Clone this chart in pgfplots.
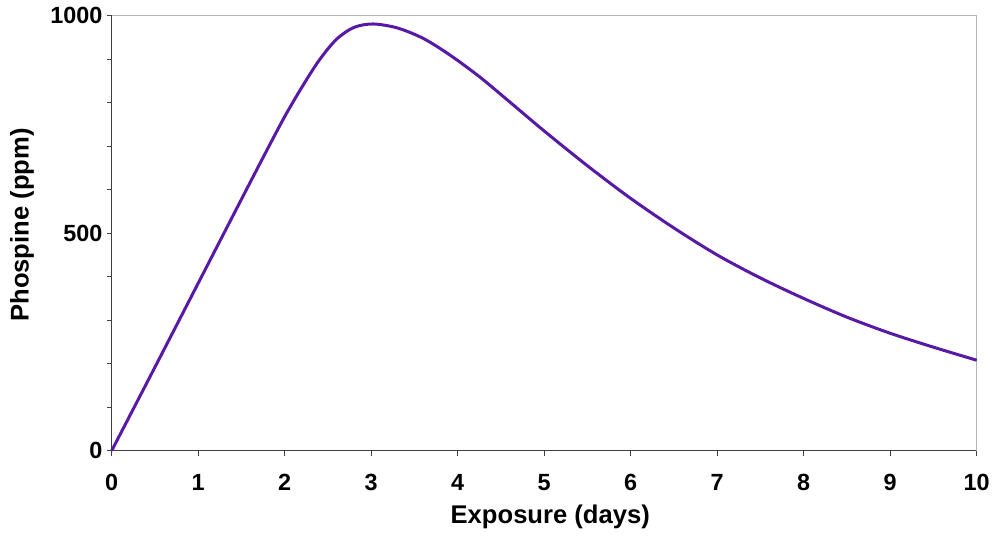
\documentclass[border=0pt]{standalone}
\usepackage{pgfplots}
\pgfplotsset{compat=1.18}
\usepackage{fontspec}
\setmainfont{Liberation Sans}
\definecolor{curve}{RGB}{88,26,166}
\definecolor{darkaxis}{RGB}{64,64,64}
\definecolor{lightaxis}{RGB}{180,180,180}

\begin{document}
\begin{tikzpicture}
\begin{axis}[
  scale only axis, width=432.5pt, height=217.5pt,
  xmin=0, xmax=10, ymin=0, ymax=1000,
  axis x line*=bottom, axis y line*=left,
  axis line style={darkaxis, line width=0.75pt, -},
  xtick={0,...,10}, ytick={0,500,1000},
  minor y tick num=4,
  tick align=outside, major tick length=2.4pt, minor tick length=2.2pt,
  tick style={darkaxis, line width=0.6pt},
  /pgf/number format/assume math mode=true,
  /pgf/number format/1000 sep={},
  tick label style={font=\fontsize{11.7}{14}\selectfont\bfseries},
  xticklabel style={anchor=north, inner sep=0pt, yshift=-9pt},
  yticklabel style={anchor=east, inner sep=0pt, xshift=-2pt},
  label style={font=\fontsize{12.8}{15}\selectfont\bfseries},
  xlabel={Exposure (days)},
  ylabel={Phospine (ppm)},
  xlabel style={at={(axis description cs:0.507,-0.152)}, anchor=center},
  ylabel style={at={(axis description cs:-0.1037,0.519)}, anchor=center, rotate=0},
  clip=false,
]
\draw[lightaxis, line width=0.75pt] (rel axis cs:0,1) -- (rel axis cs:1,1) -- (rel axis cs:1,0);
\path (rel axis cs:-0.1291,-0.1915) rectangle (rel axis cs:1.0223,1.0361);
\addplot[curve, line width=1.5pt, smooth, tension=0.5] coordinates {
(0,0)
(0.5,192)
(1.0,385)
(1.5,578)
(1.8,693)
(2.0,768)
(2.2,836)
(2.4,898)
(2.6,946)
(2.8,973)
(3.02,981)
(3.3,972)
(3.6,948)
(3.9,911)
(4.25,860)
(4.6,802)
(5.0,735)
(5.5,655)
(6.0,580)
(6.5,512)
(7.0,450)
(7.5,397)
(8.0,350)
(8.5,307)
(9.0,270)
(9.5,238)
(10.0,208)
};
\end{axis}
\end{tikzpicture}
\end{document}
